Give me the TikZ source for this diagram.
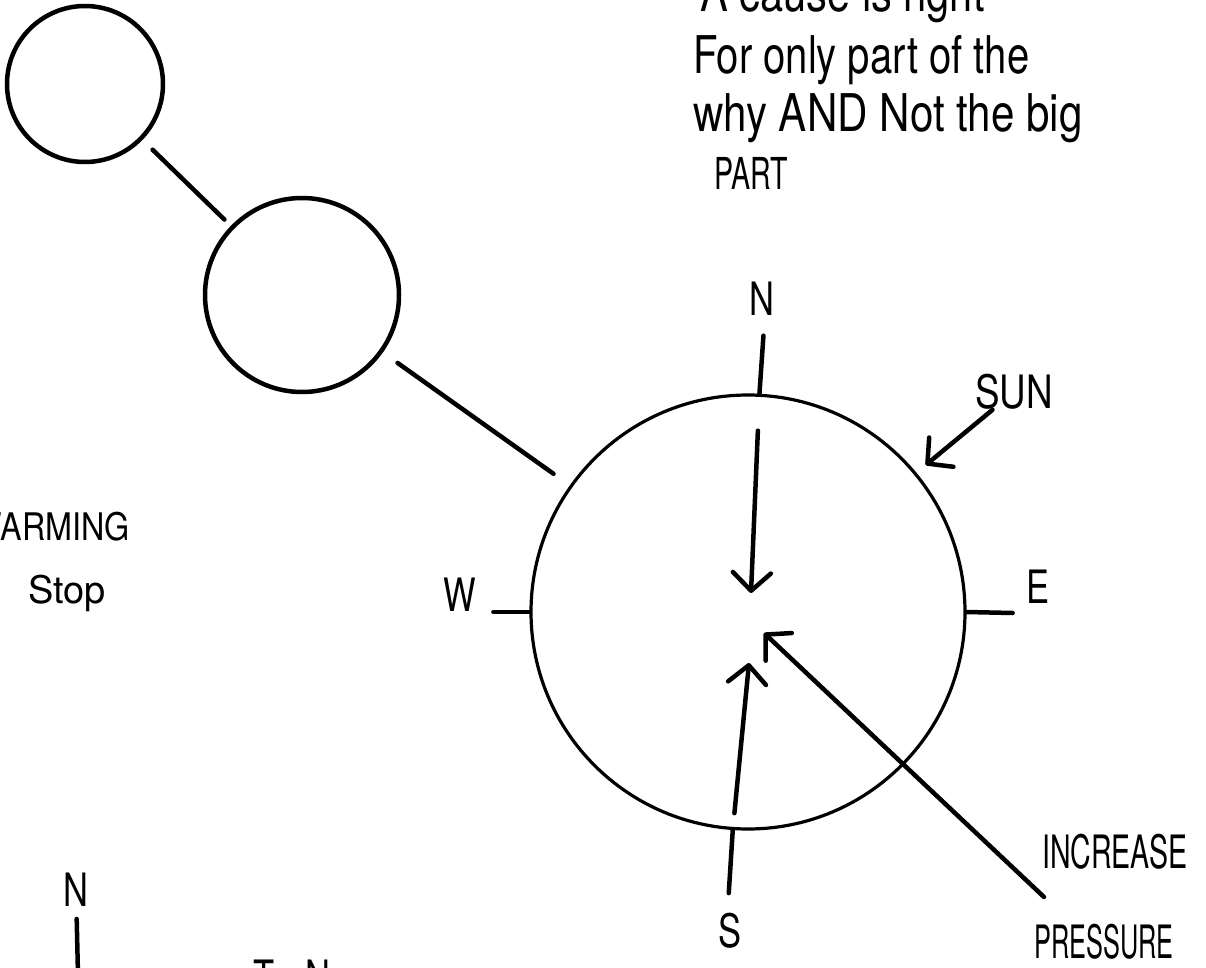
\documentclass[tikz,border=0pt]{standalone}
\usepackage{fontspec}
\setmainfont{TeX Gyre Heros}
\usetikzlibrary{arrows.meta}
\newcommand{\hand}[2]{\scalebox{#1}[1]{#2}}
\begin{document}
\begin{tikzpicture}[x=1pt,y=-1pt,line cap=round,
  ball/.style={draw,circle,line width=4.5pt,inner sep=0pt,minimum size=#1},
  link/.style={line width=4.5pt},
  arr/.style={-{Straight Barb[length=18pt,width=38pt,round]},line width=4.5pt},
  lbl/.style={font=\fontsize{46}{50}\selectfont,inner sep=0pt},
  side/.style={font=\fontsize{38}{40}\selectfont,inner sep=0pt},
  note/.style={font=\fontsize{52}{60}\selectfont,anchor=base west,inner sep=0pt}]
\useasboundingbox (0,0) rectangle (1206,968);
\node[ball=156pt] (top) at (85,84) {};
\node[ball=194pt] (mid) at (302,295) {};
\node[ball=434pt,line width=3.2pt] (globe) at (748,612) {};
\draw[link,shorten <=14pt,shorten >=9pt] (top) -- (mid);
\draw[link,shorten <=18pt,shorten >=20pt] (mid) -- (globe);
\draw[link] (globe.87) -- ++(4,-58);
\draw[link] (globe.east) -- ++(46,1);
\draw[link] (globe.west) -- ++(-36,0);
\draw[link] (globe.266) -- ++(-4,63);
\node[lbl] (nlab) at (762,299) {\hand{0.75}{N}};
\node[lbl] (elab) at (1038,587) {\hand{0.75}{E}};
\node[lbl] (wlab) at (460,595) {\hand{0.75}{W}};
\node[lbl] (slab) at (730,931) {\hand{0.75}{S}};
\coordinate (downtip) at (751,593);
\coordinate (uptip) at (749,663);
\coordinate (presstip) at (764,633);
\coordinate (pressend) at (1044,897);
\draw[arr,shorten <=37pt] (globe.87) -- (downtip);
\draw[arr,shorten <=17pt] (globe.266) -- (uptip);
\draw[arr] (pressend) -- (presstip);
\node[lbl] (sunlab) at (1014,392) {\hand{0.8}{SUN}};
\draw[arr,shorten >=12pt] (sunlab) -- (globe);
\node[lbl] (inc) at (1115,852) {\hand{0.62}{INCREASE}};
\node[lbl] (pres) at (1104,942) {\hand{0.55}{PRESSURE}};
\node[note] (cause) at (700,12) {\hand{0.8}{A cause is right}};
\node[note] (why1) at (693,74) {\hand{0.77}{For only part of the}};
\node[note] (why2) at (693,132) {\hand{0.81}{why AND Not the big}};
\node[note,font=\fontsize{44}{50}\selectfont] (why3) at (714,190) {\hand{0.65}{PART}};
\node[side,anchor=base east] (warm) at (130,540) {\hand{0.85}{WARMING}};
\node[side,anchor=base west] (stop) at (28,603) {Stop};
\node[lbl] (north) at (76,890) {\hand{0.75}{N}};
\coordinate (northend) at (78,975);
\draw[link,shorten <=12pt] (north) -- (northend);
\node[lbl,anchor=base west] (tn) at (253,993) {\hand{0.75}{T\hspace{0.9em}N}};
\end{tikzpicture}
\end{document}
